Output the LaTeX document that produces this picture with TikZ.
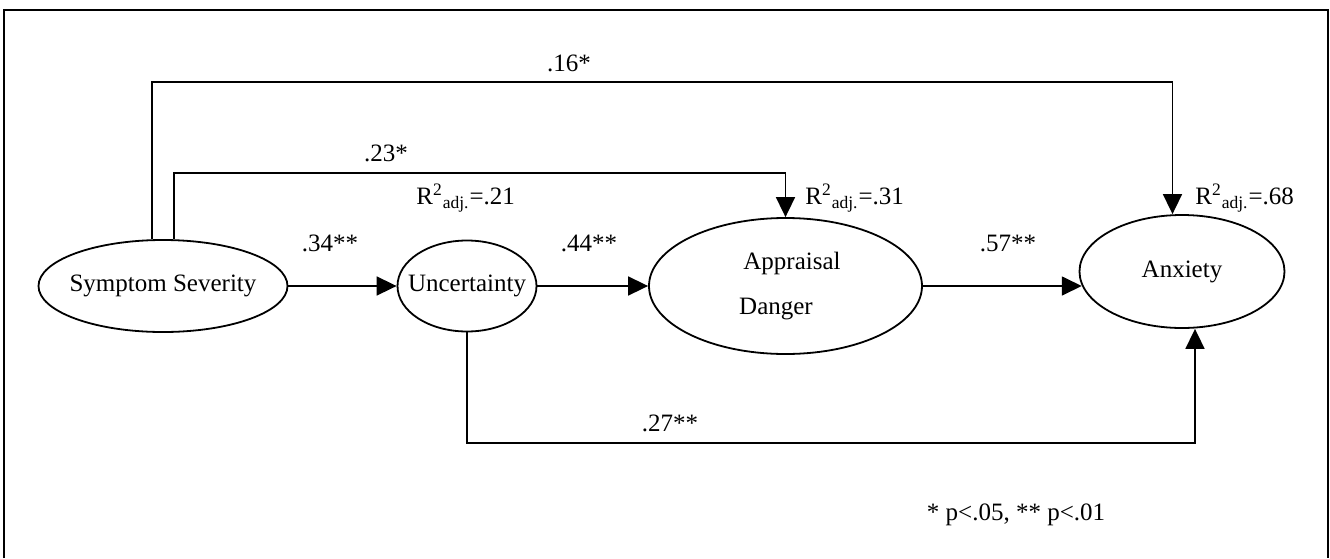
\documentclass[tikz,border=0pt]{standalone}
\usepackage{fontspec}
\setmainfont{Liberation Serif}
\usepackage{tikz}
\usetikzlibrary{arrows.meta,positioning,shapes.geometric,calc}

\begin{document}
\begin{tikzpicture}[x=0.5pt, y=-0.5pt, >={Triangle[length=10pt,width=9.5pt]},
  font=\fontsize{12.5}{15}\selectfont,
  latent/.style={draw, ellipse, line width=0.9pt, inner sep=0pt},
  link/.style={->, line width=0.85pt},
  coef/.style={inner sep=0pt}]
  \useasboundingbox (0,0) rectangle (1330,558);
  \draw[line width=0.7pt] (4,558) -- (4,10) -- (1328,10) -- (1328,558);

  % latent variables
  \node[latent, minimum width=124.5pt, minimum height=46pt] (sev) at (163,286) {\makebox[0pt]{Symptom Severity}};
  \node[latent, minimum width=69.5pt, minimum height=45.5pt] (unc) at (467,286) {\makebox[0pt]{Uncertainty}};
  \node[latent, minimum width=136.5pt, minimum height=68pt, align=center] (app) at (785.5,286) {\makebox[0pt]{\hspace{6.5pt}Appraisal}\\[7.5pt]\makebox[0pt]{Danger\hspace{9.5pt}}};
  \node[latent, minimum width=102.5pt, minimum height=56.5pt] (anx) at (1182,271.5) {\makebox[0pt]{Anxiety}};

  % routing levels
  \coordinate (lvl16) at (0,82);
  \coordinate (lvl23) at (0,173);
  \coordinate (lvl27) at (0,443);

  % paths
  \draw[link] (sev.east) -- (unc.west);
  \draw[link] (unc.east) -- (app.west);
  \draw[link] (app.east) -- (app.east -| anx.188);
  \draw[link] ([xshift=-5.5pt]sev.north) -- ([xshift=-5.5pt]sev.north |- lvl16) -| ([xshift=-4.75pt]anx.north);
  \draw[link] ([xshift=5.5pt]sev.north) -- ([xshift=5.5pt]sev.north |- lvl23) -| (app.north);
  \draw[link] (unc.south) -- (unc.south |- lvl27) -| ([xshift=6.5pt]anx.south);

  % coefficients
  \node[coef] (b16) at (569,63) {.16*};
  \node[coef] (b23) at (386,153) {.23*};
  \node[coef] (b34) at (330,243) {.34**};
  \node[coef] (b44) at (589,243) {.44**};
  \node[coef] (b57) at (1008,243) {.57**};
  \node[coef] (b27) at (670,423) {.27**};
  \node[coef, anchor=west] (r21) at (416,198) {R\textsuperscript{2}\textsubscript{adj.}=.21};
  \node[coef, anchor=west] (r31) at (805,198) {R\textsuperscript{2}\textsubscript{adj.}=.31};
  \node[coef, anchor=west] (r68) at (1195,198) {R\textsuperscript{2}\textsubscript{adj.}=.68};
  \node[coef] (note) at (1016,515) {* p<.05, ** p<.01};
\end{tikzpicture}
\end{document}
